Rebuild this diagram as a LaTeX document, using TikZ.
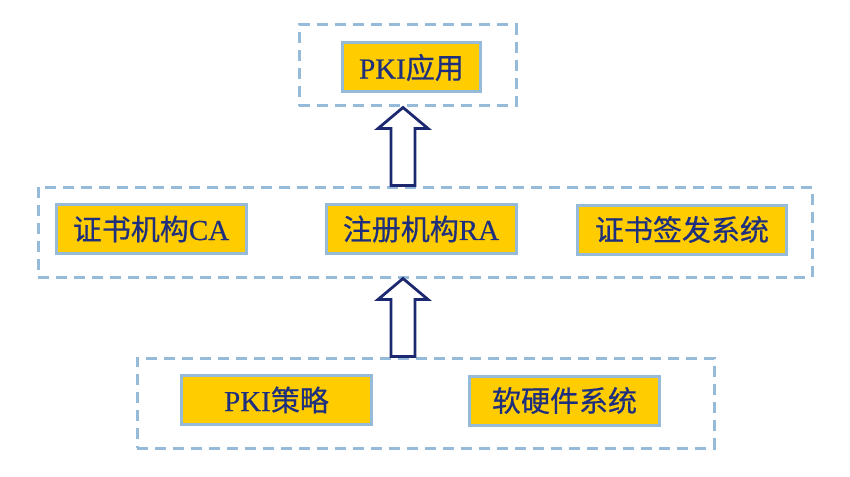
\documentclass[tikz,border=0pt]{standalone}
\usepackage{fontspec}
\setmainfont[FakeBold=0.5]{Liberation Serif}
\newfontfamily\cjk[FakeBold=0.6]{Noto Sans CJK SC}
\usetikzlibrary{calc}

\definecolor{gold}{RGB}{255,204,0}
\definecolor{edgeblue}{RGB}{150,186,218}
\definecolor{ink}{RGB}{30,48,125}
\definecolor{navy}{RGB}{28,40,112}

\begin{document}
\begin{tikzpicture}[
    x=1pt, y=-1pt,
    box/.style={rectangle, draw=edgeblue, line width=3pt, fill=gold, text=ink,
      minimum width=190pt, minimum height=49pt, inner sep=0pt,
      font=\fontsize{29}{33}\selectfont},
    frame/.style={rectangle, draw=edgeblue, line width=3pt,
      dash pattern=on 11pt off 7pt, inner sep=0pt},
    blockarrow/.style={draw=navy, line width=2.8pt, fill=white, line join=miter}
  ]
    \useasboundingbox (0,0) rectangle (850,476);
    % dashed layers
    \node[frame, minimum width=217pt, minimum height=81pt] (top) at (407.5,65.5) {};
    \node[frame, minimum width=774pt, minimum height=90pt] (mid) at (425,232) {};
    \node[frame, minimum width=577pt, minimum height=90pt] (bot) at (425.5,403) {};
    % boxes
    \node[box, minimum width=138pt] (app) at (411.5,67.5) {PKI{\cjk 应用}};
    \node[box] (ca) at (151,229) {{\cjk 证书机构}CA};
    \node[box] (ra) at (421,229) {{\cjk 注册机构}RA};
    \node[box, minimum width=209pt] (issue) at (682,229.5) {\cjk 证书签发系统};
    \node[box] (policy) at (276.5,400) {PKI{\cjk 策略}};
    \node[box] (hw) at (564.5,400.5) {\cjk 软硬件系统};
    % block arrows between layers
    \coordinate (ax) at (403,0);
    \coordinate (s1) at (mid.north -| ax);
    \coordinate (t1) at (top.south -| ax);
    \coordinate (s2) at (bot.north -| ax);
    \coordinate (t2) at (mid.south -| ax);
    \draw[blockarrow] ($(s1)+(-12,0)$) -- ($(t1)+(-12,21)$) -- ($(t1)+(-25,21)$)
      -- (t1) -- ($(t1)+(25,21)$) -- ($(t1)+(12,21)$) -- ($(s1)+(12,0)$) -- cycle;
    \draw[blockarrow] ($(s2)+(-12,0)$) -- ($(t2)+(-12,21)$) -- ($(t2)+(-25,21)$)
      -- (t2) -- ($(t2)+(25,21)$) -- ($(t2)+(12,21)$) -- ($(s2)+(12,0)$) -- cycle;
  \end{tikzpicture}
\end{document}
